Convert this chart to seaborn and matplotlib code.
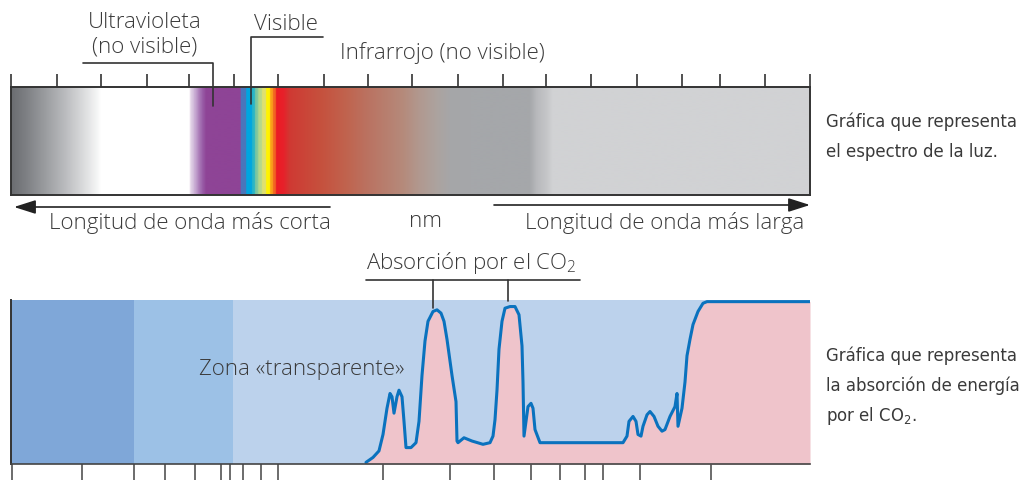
import numpy as np
import matplotlib
matplotlib.use("Agg")
import matplotlib.pyplot as plt
import seaborn as sns
from matplotlib.colors import LinearSegmentedColormap, Normalize

# wavelength scale runs left (short) to right (long), arbitrary units 11..810
scale_min, scale_max = 11, 810

# colour stops of the light spectrum bar
spectrum_pos = [11, 25, 45, 65, 85, 98, 100, 189, 190, 193, 196, 199, 202, 206,
                240, 240.5, 245.5, 246, 251.5, 252, 254.5, 255, 257.5, 258, 261.5, 262,
                265.5, 266, 269.5, 270, 272.5, 273, 275.5, 276, 283, 290, 320, 347, 370,
                403, 420, 437, 450, 470, 530, 537, 547, 553, 810]
spectrum_col = ["#6b6d71", "#7d7f83", "#9b9da0", "#bbbcbf", "#dedfe0", "#f8f8f8", "#ffffff",
                "#ffffff", "#e6d8ea", "#d4bedc", "#bf9ccb", "#aa7bb8", "#9a5ea8", "#8e4496",
                "#8e4496", "#4a76bb", "#4a76bb", "#00a6e0", "#00a6e0", "#2bb5c5", "#2bb5c5",
                "#7cc6a0", "#7cc6a0", "#b5d88a", "#b5d88a", "#dfe070", "#dfe070", "#fff200",
                "#fff200", "#f9a01b", "#f9a01b", "#f26522", "#f26522", "#ec1c24", "#e8202a",
                "#cf3a33", "#c6503d", "#c0644f", "#ba7463", "#b58a7b", "#b19990", "#aca39f",
                "#a6a6a8", "#a5a7aa", "#a5a7aa", "#b8b9bc", "#c5c6c8", "#d1d2d4", "#d1d2d4"]
top_ticks = [11, 57, 101, 147, 189, 234, 278, 324, 368, 412, 458, 503, 546, 591,
             637, 682, 720, 765, 810]

# absorption chart
bottom_ticks = [12, 82, 134, 165, 195, 221, 230, 243, 261, 278, 383, 450, 494,
                531, 560, 585, 603, 640, 711]
zone_edges = [11, 134, 233, 810]
zone_colors = ["#7fa7d8", "#9cc1e6", "#bcd2ec"]
co2_x = [366, 373, 379, 383, 387, 390, 392, 394, 397, 399, 402, 404, 406, 411, 416, 419,
         422, 425, 428, 433, 437, 441, 444, 447, 452, 456, 457, 458, 464, 472, 483, 490, 493,
         495, 497, 499, 502, 505, 510, 515, 519, 522, 523, 524, 528, 531, 533, 535, 540,
         623, 627, 629, 633, 636, 638, 641, 643, 647, 650, 654, 658, 662, 665, 670, 675, 677, 678,
         682, 685, 687, 690, 693, 698, 703, 707, 810]
co2_y = [1, 4, 8, 18, 34, 43, 41, 31, 41, 45, 41, 26, 10, 10, 13, 26,
         54, 75, 87, 93, 94, 92, 87, 76, 54, 38, 14, 13, 16, 14, 12, 13, 17,
         27, 45, 70, 87, 95, 96, 96, 91, 72, 50, 17, 35, 37, 34, 21, 13,
         13, 17, 26, 29, 26, 18, 17, 23, 30, 32, 29, 23, 20, 21, 29, 35, 43, 23,
         34, 50, 66, 76, 85, 93, 98, 99, 99]

sns.set_theme(style="white")
plt.rcParams["font.family"] = ["Open Sans", "DejaVu Sans"]
plt.rcParams["mathtext.fontset"] = "custom"
plt.rcParams["mathtext.rm"] = "Open Sans"
plt.rcParams["mathtext.default"] = "regular"

TXT = "#3a3a3a"
FS = 16
narrow = ["Liberation Sans Narrow", "DejaVu Sans"]

W, H = 1020, 481
fig = plt.figure(figsize=(W / 100, H / 100), dpi=100)
fig.patch.set_facecolor("white")

""" Spectrum bar """
ax1 = fig.add_axes([11 / W, 1 - 196 / H, 799 / W, 108 / H])
pos = [(p - scale_min) / (scale_max - scale_min) for p in spectrum_pos]
spec_cmap = LinearSegmentedColormap.from_list("spec", list(zip(pos, spectrum_col)), N=1024)
grad = np.linspace(scale_min, scale_max, 1600)[None, :]
ax1.imshow(grad, cmap=spec_cmap, norm=Normalize(scale_min, scale_max),
           extent=(scale_min, scale_max, 196, 88), aspect="auto", interpolation="bilinear")
ax1.set_xlim(scale_min, scale_max)
ax1.set_ylim(196, 88)
ax1.set_yticks([])
ax1.set_xticks(top_ticks)
ax1.xaxis.tick_top()
ax1.tick_params(axis="x", direction="out", length=9.5, width=1.2, color="#333333",
                labeltop=False, labelbottom=False, top=True, bottom=False)
for s in ax1.spines.values():
    s.set_color("#333333")
    s.set_linewidth(1.4)

kw = dict(color=TXT, fontsize=FS, fontweight="light", clip_on=False)
ax1.text(145, 22, "Ultravioleta", ha="center", va="center", **kw)
ax1.text(145, 47, "(no visible)", ha="center", va="center", **kw)
ax1.text(286, 24, "Visible", ha="center", va="center", **kw)
ax1.text(442, 53, "Infrarrojo (no visible)", ha="center", va="center", **kw)
ax1.plot([83, 213, 213], [64, 64, 107], color="#333333", lw=1.2, clip_on=False)
ax1.plot([323, 251, 251], [38, 38, 105], color="#333333", lw=1.2, clip_on=False)

arr = dict(arrowstyle="-|>,head_length=1.1,head_width=0.35", color="#222222", lw=1.2,
           shrinkA=0, shrinkB=0)
ax1.annotate("", xy=(14, 208), xytext=(330, 208), arrowprops=arr, annotation_clip=False)
ax1.annotate("", xy=(810, 206), xytext=(494, 206), arrowprops=arr, annotation_clip=False)
ax1.text(190, 223, "Longitud de onda más corta", ha="center", va="center", **kw)
ax1.text(426, 221, "nm", ha="center", va="center", **kw)
ax1.text(665, 223, "Longitud de onda más larga", ha="center", va="center", **kw)

""" CO2 absorption """
ax2 = fig.add_axes([11 / W, 1 - 465 / H, 799 / W, 164 / H])
for x0, x1, c in zip(zone_edges[:-1], zone_edges[1:], zone_colors):
    ax2.axvspan(x0, x1, color=c, lw=0)
ax2.fill_between(co2_x, 0, co2_y, color="#efc4cb", lw=0)
sns.lineplot(x=co2_x, y=co2_y, sort=False, color="#0a72be", lw=2.2, ax=ax2)
ax2.set_xlim(scale_min, scale_max)
ax2.set_ylim(0, 100)
ax2.set_yticks([])
ax2.set_xticks(bottom_ticks)
ax2.tick_params(axis="x", direction="out", length=12, width=1.1, color="#444444",
                labelbottom=False, bottom=True)
ax2.spines["top"].set_visible(False)
ax2.spines["right"].set_visible(False)
ax2.spines["left"].set_color("#333333")
ax2.spines["left"].set_linewidth(1.4)
ax2.spines["bottom"].set_color("#444444")
ax2.spines["bottom"].set_linewidth(1.2)
ax2.set_xlabel("")
ax2.set_ylabel("")

ax2.text(302, 58, "Zona «transparente»", ha="center", va="center", **kw)
ax2.text(366, 123, "Absorción por el CO$_2$", ha="left", va="center", **kw)
ax2.plot([366, 580], [112, 112], color="#333333", lw=1.2, clip_on=False)
ax2.plot([433, 433], [112, 95], color="#333333", lw=1.2, clip_on=False)
ax2.plot([508, 508], [112, 99.5], color="#333333", lw=1.2, clip_on=False)

""" side captions """
cap = dict(color=TXT, fontsize=13.2, family=narrow, fontstretch="condensed",
           ha="left", va="center")
fig.text(826 / W, 1 - 122 / H, "Gráfica que representa", **cap)
fig.text(826 / W, 1 - 152 / H, "el espectro de la luz.", **cap)
fig.text(826 / W, 1 - 356 / H, "Gráfica que representa", **cap)
fig.text(826 / W, 1 - 386 / H, "la absorción de energía", **cap)
fig.text(826 / W, 1 - 416 / H, "por el CO$_2$.", **cap)

plt.savefig("out.png", dpi=100)
